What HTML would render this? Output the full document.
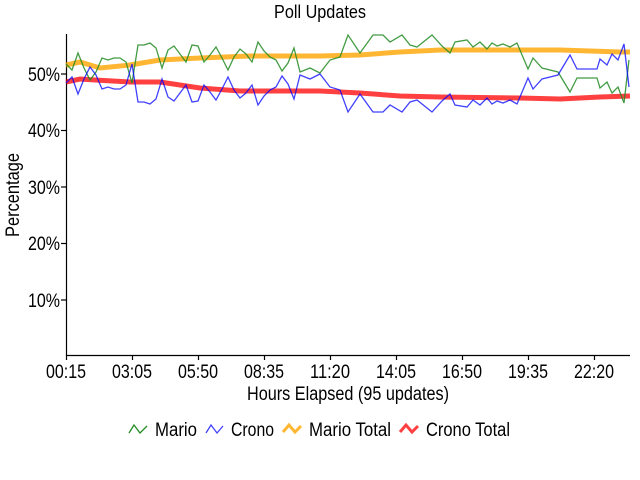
<!DOCTYPE html>
<html><head><style>html,body{margin:0;padding:0;background:#fff}svg{display:block}text{font-family:"Liberation Sans Narrow","Liberation Sans",sans-serif;fill:#000}</style></head><body>
<svg width="640" height="480" viewBox="0 0 640 480" xmlns="http://www.w3.org/2000/svg">
<text x="320" y="18" font-size="18" text-anchor="middle" textLength="92" lengthAdjust="spacingAndGlyphs">Poll Updates</text>
<g stroke="#000" stroke-width="1.2" fill="none">
<line x1="66.5" y1="34" x2="66.5" y2="355.5"/>
<line x1="66" y1="355.5" x2="630" y2="355.5"/>
<line x1="61" y1="74" x2="66" y2="74"/><line x1="61" y1="130.5" x2="66" y2="130.5"/><line x1="61" y1="187" x2="66" y2="187"/><line x1="61" y1="243.5" x2="66" y2="243.5"/><line x1="61" y1="300" x2="66" y2="300"/>
<line x1="66.5" y1="355" x2="66.5" y2="360"/><line x1="132.5" y1="355" x2="132.5" y2="360"/><line x1="198.5" y1="355" x2="198.5" y2="360"/><line x1="264.5" y1="355" x2="264.5" y2="360"/><line x1="330.5" y1="355" x2="330.5" y2="360"/><line x1="396.5" y1="355" x2="396.5" y2="360"/><line x1="462.5" y1="355" x2="462.5" y2="360"/><line x1="528.5" y1="355" x2="528.5" y2="360"/><line x1="594.5" y1="355" x2="594.5" y2="360"/>
</g>
<g font-size="19" text-anchor="end">
<text x="60" y="81" textLength="32" lengthAdjust="spacingAndGlyphs">50%</text>
<text x="60" y="137" textLength="32" lengthAdjust="spacingAndGlyphs">40%</text>
<text x="60" y="194" textLength="32" lengthAdjust="spacingAndGlyphs">30%</text>
<text x="60" y="250" textLength="32" lengthAdjust="spacingAndGlyphs">20%</text>
<text x="60" y="307" textLength="32" lengthAdjust="spacingAndGlyphs">10%</text>
</g>
<g font-size="19" text-anchor="middle">
<text x="66" y="378" textLength="40" lengthAdjust="spacingAndGlyphs">00:15</text>
<text x="132" y="378" textLength="40" lengthAdjust="spacingAndGlyphs">03:05</text>
<text x="198" y="378" textLength="40" lengthAdjust="spacingAndGlyphs">05:50</text>
<text x="264" y="378" textLength="40" lengthAdjust="spacingAndGlyphs">08:35</text>
<text x="330" y="378" textLength="40" lengthAdjust="spacingAndGlyphs">11:20</text>
<text x="396" y="378" textLength="40" lengthAdjust="spacingAndGlyphs">14:05</text>
<text x="462" y="378" textLength="40" lengthAdjust="spacingAndGlyphs">16:50</text>
<text x="528" y="378" textLength="40" lengthAdjust="spacingAndGlyphs">19:35</text>
<text x="594" y="378" textLength="40" lengthAdjust="spacingAndGlyphs">22:20</text>
<text x="348" y="400" textLength="202" lengthAdjust="spacingAndGlyphs">Hours Elapsed (95 updates)</text>
</g>
<text transform="translate(19,195) rotate(-90)" font-size="19" text-anchor="middle" textLength="84" lengthAdjust="spacingAndGlyphs">Percentage</text>
<polyline fill="none" stroke="#ffa500" stroke-opacity="0.8" stroke-width="5" points="66,65 80,62 100,68 130,65 160,60 200,58 250,56 320,56 360,55 400,52 440,50 520,50 560,50 590,51 620,52 630,52"/>
<polyline fill="none" stroke="#ff0000" stroke-opacity="0.75" stroke-width="5" points="66,82 80,79 95,80 130,82 160,82 200,88 240,91 320,91 360,93 400,96 440,97 520,98 560,99 600,97 630,96"/>
<polyline fill="none" stroke="#228b22" stroke-opacity="0.85" stroke-width="1.3" points="66,64 72,70 78,53 84,68 90,80 96,72 102,58 108,60 114,58 120,58 126,62 132,83 138,45 144,45 150,43 156,48 162,68 168,50 174,46 180,54 186,62 192,45 198,46 204,62 210,55 216,47 222,58 228,70 234,57 240,49 246,54 252,62 258,42 264,51 270,57 276,60 282,71 288,63 294,48 300,72 310,68 320,73 330,60 340,57 348,35 360,53 373,35 383,35 390,42 402,35 410,45 417,47 432,35 442,46 450,53 455,42 467,40 473,47 480,42 487,49 492,43 497,46 503,44 510,47 517,43 528,69 533,58 542,68 558,72 570,92 577,78 587,78 597,78 600,88 607,82 612,93 618,87 624,103 629,60"/>
<polyline fill="none" stroke="#0000ff" stroke-opacity="0.75" stroke-width="1.3" points="66,83 72,77 78,94 84,79 90,67 96,75 102,89 108,87 114,89 120,89 126,85 132,64 138,102 144,102 150,104 156,99 162,79 168,97 174,101 180,93 186,85 192,102 198,101 204,85 210,92 216,100 222,89 228,77 234,90 240,98 246,93 252,85 258,105 264,96 270,90 276,87 282,76 288,84 294,99 300,75 310,79 320,74 330,87 340,90 348,112 360,94 373,112 383,112 390,105 402,112 410,102 417,100 432,112 442,101 450,94 455,105 467,107 473,100 480,105 487,98 492,104 497,101 503,103 510,100 517,104 528,78 533,89 542,79 558,75 570,55 577,69 587,69 597,69 600,59 607,65 612,54 618,60 624,44 629,87"/>
<g font-size="19">
<polyline fill="none" stroke="#228b22" stroke-width="1.3" points="129,433 134,425 140,433 147,426"/>
<text x="155" y="436" textLength="42" lengthAdjust="spacingAndGlyphs">Mario</text>
<polyline fill="none" stroke="#0000ff" stroke-opacity="0.75" stroke-width="1.3" points="206,433 211,425 217,433 223,426"/>
<text x="231" y="436" textLength="43" lengthAdjust="spacingAndGlyphs">Crono</text>
<polyline fill="none" stroke="#ffa500" stroke-opacity="0.8" stroke-width="3" points="283,432 289,425 295,432 301,426"/>
<text x="309" y="436" textLength="82" lengthAdjust="spacingAndGlyphs">Mario Total</text>
<polyline fill="none" stroke="#ff0000" stroke-opacity="0.75" stroke-width="3" points="400,432 406,425 412,432 418,426"/>
<text x="426" y="436" textLength="84" lengthAdjust="spacingAndGlyphs">Crono Total</text>
</g>
</svg>
</body></html>
